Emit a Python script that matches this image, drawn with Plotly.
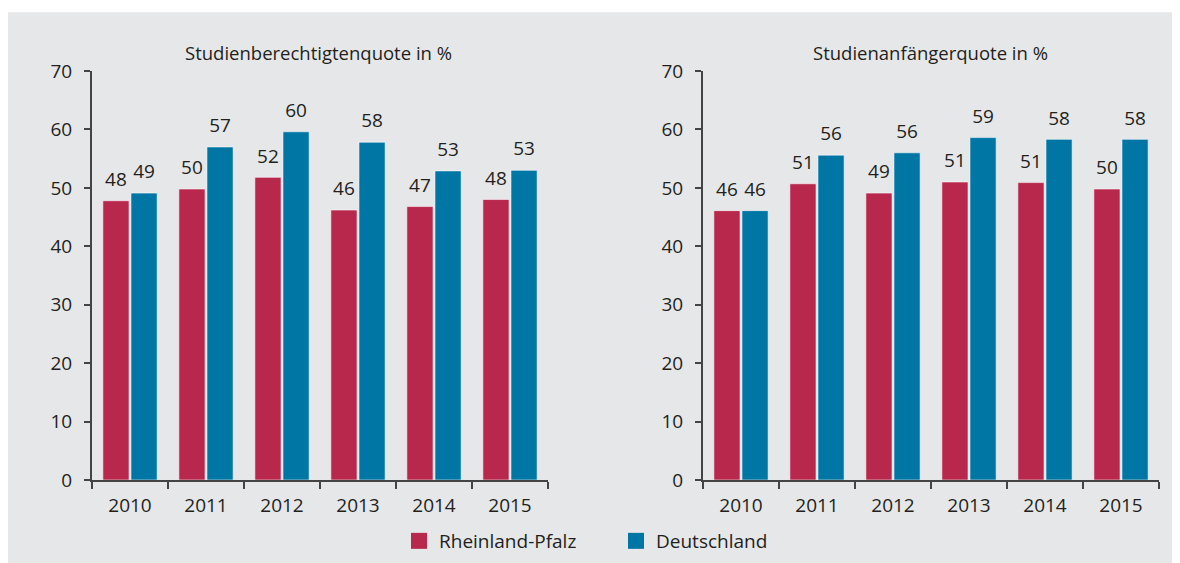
import plotly.graph_objects as go

years = ["2010", "2011", "2012", "2013", "2014", "2015"]
rp_berechtigt = [47.8, 49.8, 51.8, 46.2, 46.8, 48.0]
de_berechtigt = [49.1, 57.0, 59.6, 57.8, 52.9, 53.0]
rp_anfaenger = [46.1, 50.7, 49.1, 51.0, 50.9, 49.8]
de_anfaenger = [46.1, 55.6, 56.0, 58.6, 58.3, 58.3]

titles = ["Studienberechtigtenquote in %", "Studienanfängerquote in %"]
series_names = ["Rheinland-Pfalz", "Deutschland"]

RED = "#B8284C"
BLUE = "#0076A4"
TXT = "#231F20"
FONT = "Open Sans"
BG = "#E6E7E9"
FS = 19

fig = go.Figure()

def add(vals, name, color, xa, ya, og):
    # visible bar
    fig.add_trace(go.Bar(
        x=years, y=vals, name=name, showlegend=False, offsetgroup=og,
        marker=dict(color=color, line=dict(color="rgba(255,255,255,0.55)", width=1)),
        xaxis=xa, yaxis=ya, hoverinfo="skip",
    ))
    # transparent carrier for the value label, stacked 1 unit above the bar top
    fig.add_trace(go.Bar(
        x=years, y=[1] * len(vals), base=vals, showlegend=False, offsetgroup=og,
        marker=dict(color="rgba(0,0,0,0)", line=dict(width=0)),
        text=[f"{v:.0f}" for v in vals], textposition="outside",
        textfont=dict(size=FS, color=TXT, family=FONT), cliponaxis=False,
        xaxis=xa, yaxis=ya, hoverinfo="skip",
    ))

add(rp_berechtigt, series_names[0], RED, "x", "y", "rp")
add(de_berechtigt, series_names[1], BLUE, "x", "y", "de")
add(rp_anfaenger, series_names[0], RED, "x2", "y2", "rp")
add(de_anfaenger, series_names[1], BLUE, "x2", "y2", "de")

# legend entries
for name, color in zip(series_names, [RED, BLUE]):
    fig.add_trace(go.Scatter(
        x=[None], y=[None], mode="markers", name=name,
        marker=dict(symbol="square", size=16, color=color),
        xaxis="x", yaxis="y", hoverinfo="skip",
    ))

xcommon = dict(type="category", showline=True, linecolor="#444", linewidth=2,
               ticks="outside", tickson="boundaries", ticklen=7, tickcolor="#444", tickwidth=2,
               tickfont=dict(size=FS, color=TXT, family=FONT), showgrid=False, zeroline=False,
               ticklabelstandoff=7)
ycommon = dict(range=[0, 70], dtick=10, showline=True, linecolor="#444", linewidth=2,
               ticks="outside", ticklen=6, tickcolor="#444", tickwidth=2,
               tickfont=dict(size=FS, color=TXT, family=FONT), showgrid=False, zeroline=False,
               ticklabelstandoff=8)

W, H = 1180, 563
ml, mr, mt, mb = 84, 29, 63, 90
pw = W - ml - mr
ph = H - mt - mb

fig.update_layout(
    width=W, height=H,
    margin=dict(l=ml, r=mr, t=mt, b=mb),
    paper_bgcolor="white", plot_bgcolor="rgba(0,0,0,0)",
    barmode="group", bargap=0.26, bargroupgap=0.07,
    font=dict(family=FONT, color=TXT),
    xaxis=dict(domain=[0, 456 / pw], anchor="y", **xcommon),
    yaxis=dict(anchor="x", **ycommon),
    xaxis2=dict(domain=[611 / pw, 1], anchor="y2", **xcommon),
    yaxis2=dict(anchor="x2", **ycommon),
    legend=dict(orientation="h", x=(608 - ml) / pw, xanchor="center",
                y=-(533 - (mt + ph)) / ph, yanchor="middle",
                font=dict(size=FS, color=TXT, family=FONT), itemsizing="trace",
                bgcolor="rgba(0,0,0,0)", entrywidth=172, entrywidthmode="pixels"),
    shapes=[dict(type="rect", xref="paper", yref="paper",
                 x0=(0 - ml) / pw, x1=1.3, y0=-0.5, y1=1 + (mt - 4) / ph,
                 fillcolor=BG, line=dict(width=0), layer="below")],
    annotations=[
        dict(text=titles[0], xref="paper", yref="paper", x=(310 - ml) / pw,
             y=1 + (mt - 44) / ph, showarrow=False, xanchor="center", yanchor="middle",
             font=dict(size=18.5, color=TXT, family=FONT)),
        dict(text=titles[1], xref="paper", yref="paper", x=(922 - ml) / pw,
             y=1 + (mt - 44) / ph, showarrow=False, xanchor="center", yanchor="middle",
             font=dict(size=18.5, color=TXT, family=FONT)),
    ],
)

fig.write_html("out.html")
